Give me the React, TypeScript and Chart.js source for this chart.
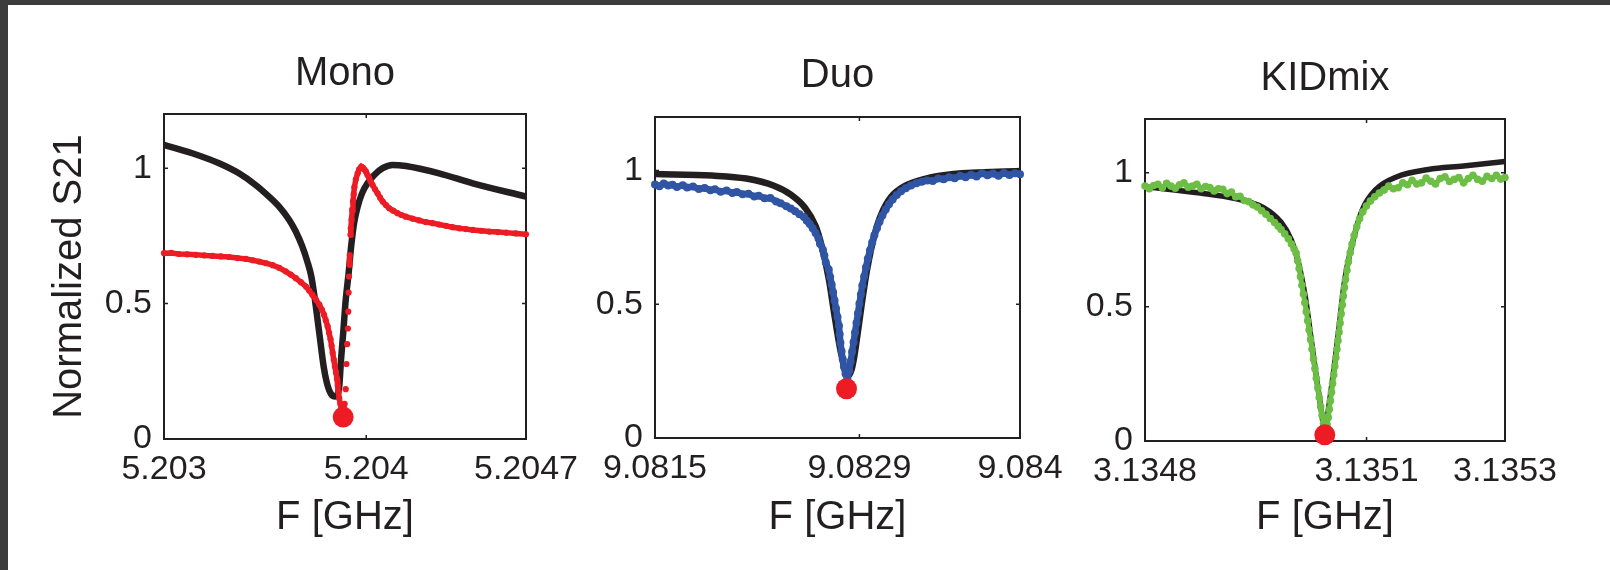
import React, { useEffect, useRef } from "react";
import { Chart, registerables } from "chart.js";

Chart.register(...registerables);

const INK = "#231F20";
const RED = "#ED1C24";
const BLUE = "#2F55A4";
const GREEN = "#6CBE45";
const FONT = "'Liberation Sans', Arial, sans-serif";

// ---------- shared y axis ----------
const yTicks = [0, 0.5, 1];
const yTickLabels = ["0", "0.5", "1"];
const yRange = [0, 1.2];

// ---------- Mono ----------
const monoRange = [5.203, 5.20479];
const monoTicks = [5.203, 5.204, 5.20479];
const monoTickLabels = ["5.203", "5.204", "5.2047"];
const monoFitFreq = [
  5.2030000, 5.2031396, 5.2032721, 5.2033705, 5.2034529, 5.2035191, 5.2035692, 5.2036193,
  5.2036516, 5.2036838, 5.2037088, 5.2037285, 5.2037464, 5.2037679, 5.2037894, 5.2038055,
  5.2038252, 5.2038467, 5.2038664, 5.2038753, 5.2038861, 5.2038986, 5.2039129, 5.2039254,
  5.2039398, 5.2039577, 5.2039791, 5.2040060, 5.2040400, 5.2040812, 5.2041295, 5.2041957,
  5.2043604, 5.2045269, 5.2047900,
];
const monoFitS21 = [
  1.086, 1.055, 1.018, 0.981, 0.938, 0.895, 0.858, 0.809,
  0.766, 0.711, 0.655, 0.600, 0.514, 0.391, 0.268, 0.207,
  0.167, 0.157, 0.194, 0.293, 0.391, 0.514, 0.612, 0.711,
  0.797, 0.858, 0.907, 0.944, 0.975, 1.000, 1.012, 1.008,
  0.981, 0.944, 0.895,
];
const monoDataFreq = [
  5.2030000, 5.2030358, 5.2030734, 5.2031146, 5.2031575, 5.2031987, 5.2032399, 5.2032810,
  5.2033222, 5.2033634, 5.2034045, 5.2034386, 5.2034708, 5.2035048, 5.2035370, 5.2035692,
  5.2036014, 5.2036265, 5.2036516, 5.2036766, 5.2037017, 5.2037178, 5.2037339, 5.2037518,
  5.2037679, 5.2037804, 5.2037912, 5.2038001, 5.2038091, 5.2038162, 5.2038234, 5.2038288,
  5.2038341, 5.2038395, 5.2038449, 5.2038503, 5.2038556, 5.2038592, 5.2038628, 5.2038664,
  5.2038717, 5.2038771, 5.2038825,
  5.2038932, 5.2038986, 5.2039022, 5.2039057, 5.2039093, 5.2039111, 5.2039129, 5.2039147,
  5.2039165, 5.2039183, 5.2039219, 5.2039236, 5.2039272, 5.2039308, 5.2039344, 5.2039380,
  5.2039415, 5.2039487, 5.2039577, 5.2039648, 5.2039756, 5.2039845, 5.2039917, 5.2039988,
  5.2040060, 5.2040149, 5.2040221, 5.2040310, 5.2040436, 5.2040561, 5.2040686, 5.2040812,
  5.2040973, 5.2041134, 5.2041331, 5.2041546, 5.2041742, 5.2041957, 5.2042279, 5.2042620,
  5.2042942, 5.2043282, 5.2043604, 5.2043944, 5.2044266, 5.2044606, 5.2044929, 5.2045269,
  5.2045680, 5.2046092, 5.2046504, 5.2046916, 5.2047399, 5.2047900,
];
const monoDataS21 = [
  0.686, 0.687, 0.683, 0.682, 0.680, 0.678, 0.676, 0.674,
  0.672, 0.668, 0.665, 0.660, 0.655, 0.649, 0.642, 0.632,
  0.619, 0.607, 0.594, 0.579, 0.563, 0.548, 0.532, 0.514,
  0.496, 0.478, 0.459, 0.438, 0.416, 0.392, 0.368, 0.344,
  0.318, 0.293, 0.268, 0.246, 0.222, 0.196, 0.172, 0.150,
  0.130, 0.112, 0.096,
  0.130, 0.184, 0.277, 0.350, 0.408, 0.470, 0.541, 0.600,
  0.643, 0.679, 0.754, 0.778, 0.809, 0.846, 0.877, 0.904,
  0.930, 0.959, 0.981, 0.996, 1.006, 1.001, 0.994, 0.987,
  0.975, 0.963, 0.950, 0.938, 0.922, 0.907, 0.891, 0.877,
  0.864, 0.852, 0.843, 0.834, 0.827, 0.821, 0.814, 0.807,
  0.801, 0.797, 0.792, 0.787, 0.782, 0.778, 0.775, 0.772,
  0.769, 0.766, 0.764, 0.762, 0.759, 0.756,
];
const monoDipFreq = [5.2038859];
const monoDipS21 = [0.081];

// ---------- Duo ----------
const duoRange = [9.0815, 9.084];
const duoTicks = [9.0815, 9.0829, 9.084];
const duoTickLabels = ["9.0815", "9.0829", "9.084"];
const duoFitFreq = [
  9.0815, 9.08189, 9.082125, 9.082315, 9.0824325, 9.0825275, 9.0826, 9.082645,
  9.0826925, 9.0827275, 9.082765, 9.082785, 9.0828, 9.0828225, 9.0828475, 9.082865,
  9.0828825, 9.0829175, 9.0829525, 9.083, 9.0830475, 9.0831175, 9.0832125, 9.083355,
  9.083545, 9.084,
];
const duoFitS21 = [
  0.987, 0.981, 0.970, 0.943, 0.909, 0.861, 0.793, 0.711,
  0.588, 0.465, 0.342, 0.290, 0.255, 0.232, 0.258, 0.305,
  0.369, 0.506, 0.629, 0.752, 0.834, 0.902, 0.943, 0.970,
  0.987, 0.998,
];
const duoDataFreq = [
  9.0815, 9.08153, 9.08156, 9.08159, 9.08162, 9.08165, 9.08169, 9.08172,
  9.08176, 9.0818, 9.08184, 9.08188, 9.08191, 9.08195, 9.08199, 9.08203,
  9.08206, 9.0821, 9.08214, 9.08218, 9.08221, 9.08225, 9.08229, 9.08233,
  9.08236, 9.0824, 9.08243, 9.08246, 9.08249, 9.08252, 9.08254, 9.08256,
  9.08258, 9.0826, 9.08262, 9.08263, 9.08265, 9.08266, 9.08267, 9.08269,
  9.0827, 9.08271, 9.08272, 9.08273, 9.08274, 9.08275, 9.08276, 9.082765,
  9.08277, 9.082778, 9.082786, 9.082794, 9.082805, 9.0828175,
  9.08283, 9.08284, 9.08285, 9.08286, 9.08287, 9.08288, 9.08289, 9.0829,
  9.08291, 9.08292, 9.0829325, 9.082945, 9.0829575, 9.0829725, 9.0829875, 9.0830025,
  9.08302, 9.0830375, 9.0830575, 9.08308, 9.0831025, 9.0831275, 9.083155, 9.083185,
  9.0832175, 9.0832525, 9.08329, 9.0833275, 9.083365, 9.0834025, 9.08344, 9.0834775,
  9.083515, 9.0835525, 9.08359, 9.0836275, 9.083665, 9.0837025, 9.08374, 9.0837775,
  9.083815, 9.0838525, 9.08389, 9.0839275, 9.083965, 9.084,
];
const duoDataS21 = [
  0.948, 0.941, 0.951, 0.944, 0.947, 0.938, 0.945, 0.936,
  0.940, 0.931, 0.935, 0.926, 0.930, 0.921, 0.925, 0.916,
  0.920, 0.911, 0.913, 0.903, 0.906, 0.896, 0.897, 0.884,
  0.878, 0.866, 0.858, 0.848, 0.836, 0.826, 0.812, 0.800,
  0.784, 0.766, 0.746, 0.726, 0.704, 0.682, 0.656, 0.630,
  0.602, 0.574, 0.545, 0.514, 0.484, 0.452, 0.420, 0.388,
  0.356, 0.324, 0.294, 0.266, 0.240, 0.222,
  0.252, 0.286, 0.322, 0.358, 0.394, 0.430, 0.466, 0.502,
  0.536, 0.570, 0.604, 0.638, 0.670, 0.702, 0.731, 0.758,
  0.784, 0.808, 0.832, 0.854, 0.874, 0.892, 0.908, 0.922,
  0.934, 0.944, 0.952, 0.958, 0.963, 0.961, 0.970, 0.967,
  0.975, 0.971, 0.980, 0.975, 0.984, 0.978, 0.990, 0.982,
  0.989, 0.980, 0.991, 0.983, 0.990, 0.986,
];
const duoDipFreq = [9.0828118];
const duoDipS21 = [0.184];

// ---------- KIDmix ----------
const kidRange = [3.13478, 3.1353];
const kidTicks = [3.13478, 3.1351, 3.1353];
const kidTickLabels = ["3.1348", "3.1351", "3.1353"];
const kidFitFreq = [
  3.13478, 3.1348596, 3.1349105, 3.1349511, 3.1349766, 3.1349916, 3.1350015, 3.1350119,
  3.1350192, 3.135027, 3.1350348, 3.13504, 3.1350447, 3.1350525, 3.1350603, 3.1350676,
  3.135078, 3.135093, 3.1351133, 3.135144, 3.1351892, 3.1352402, 3.1353,
];
const kidFitS21 = [
  0.948, 0.924, 0.903, 0.870, 0.815, 0.748, 0.666, 0.531,
  0.395, 0.247, 0.111, 0.030, 0.111, 0.260, 0.423, 0.585,
  0.720, 0.856, 0.937, 0.985, 1.012, 1.025, 1.042,
];
const kidDataFreq = [
  3.13478, 3.1347862, 3.1347925, 3.1347987, 3.134805, 3.1348112, 3.1348174, 3.1348237,
  3.1348299, 3.1348362, 3.1348424, 3.1348486, 3.1348549, 3.1348611, 3.1348674, 3.1348736,
  3.1348798, 3.1348861, 3.1348923, 3.1348986, 3.1349048, 3.134911, 3.1349173, 3.1349235,
  3.1349298, 3.134936, 3.1349422, 3.1349485, 3.1349547, 3.134961, 3.1349672, 3.1349724,
  3.1349766, 3.1349818, 3.134987, 3.1349916, 3.1349953, 3.1349984, 3.1350005, 3.1350026,
  3.1350046, 3.1350067, 3.1350088, 3.1350109, 3.135013, 3.135015, 3.1350171, 3.1350192,
  3.1350213, 3.1350234, 3.1350254, 3.1350275, 3.1350296, 3.1350317, 3.1350338, 3.1350358,
  3.1350379,
  3.1350431, 3.1350447, 3.1350462, 3.1350478, 3.1350494, 3.1350509, 3.1350525, 3.135054,
  3.1350556, 3.1350572, 3.1350587, 3.1350603, 3.1350618, 3.1350634, 3.135065, 3.1350665,
  3.1350681, 3.1350696, 3.1350717, 3.1350738, 3.1350764, 3.135079, 3.1350821, 3.1350858,
  3.1350899, 3.1350946, 3.1350998, 3.1351055, 3.1351118, 3.1351185, 3.1351253, 3.135132,
  3.1351388, 3.1351456, 3.1351523, 3.1351591, 3.1351658, 3.1351726, 3.1351794, 3.1351861,
  3.1351929, 3.1351996, 3.1352064, 3.1352132, 3.1352199, 3.1352267, 3.1352334, 3.1352402,
  3.135247, 3.1352537, 3.1352605, 3.1352672, 3.135274, 3.1352808, 3.1352875, 3.1352938,
  3.1353,
];
const kidDataS21 = [
  0.950, 0.940, 0.952, 0.957, 0.944, 0.960, 0.950, 0.942,
  0.955, 0.962, 0.946, 0.950, 0.957, 0.940, 0.948, 0.945,
  0.932, 0.940, 0.938, 0.922, 0.928, 0.910, 0.912, 0.896,
  0.892, 0.880, 0.872, 0.858, 0.845, 0.829, 0.814, 0.800,
  0.788, 0.772, 0.754, 0.734, 0.716, 0.700, 0.672, 0.643,
  0.612, 0.580, 0.548, 0.515, 0.482, 0.448, 0.414, 0.378,
  0.342, 0.306, 0.270, 0.234, 0.198, 0.162, 0.128, 0.096,
  0.068,
  0.060, 0.088, 0.118, 0.150, 0.182, 0.214, 0.246, 0.278,
  0.310, 0.342, 0.374, 0.406, 0.440, 0.474, 0.508, 0.540,
  0.572, 0.602, 0.636, 0.668, 0.702, 0.734, 0.766, 0.798,
  0.828, 0.854, 0.876, 0.894, 0.910, 0.924, 0.935, 0.950,
  0.940, 0.944, 0.962, 0.955, 0.972, 0.958, 0.962, 0.980,
  0.968, 0.958, 0.978, 0.985, 0.967, 0.975, 0.982, 0.962,
  0.978, 0.990, 0.975, 0.968, 0.986, 0.978, 0.990, 0.976,
  0.982,
];
const kidDipFreq = [3.1350397];
const kidDipS21 = [0.023];

// ---------- panel layout (positions/styles only) ----------
type Panel = {
  title: string;
  range: number[];
  ticks: number[];
  tickLabels: string[];
  fitFreq: number[];
  fitS21: number[];
  dataFreq: number[];
  dataS21: number[];
  dipFreq: number[];
  dipS21: number[];
  color: string;
  pointR: number;
  dataW: number;
  fitW: number;
  canvasLeft: number;
  canvasWidth: number;
  yWidth: number;
  padRight: number;
  titlePadTop: number;
  titlePadBottom: number;
  xHeight: number;
  yTitle: boolean;
};

const PANELS: Panel[] = [
  {
    title: "Mono", range: monoRange, ticks: monoTicks, tickLabels: monoTickLabels,
    fitFreq: monoFitFreq, fitS21: monoFitS21, dataFreq: monoDataFreq, dataS21: monoDataS21,
    dipFreq: monoDipFreq, dipS21: monoDipS21, color: RED, pointR: 3.1, dataW: 5.5, fitW: 6.5,
    canvasLeft: 0, canvasWidth: 590, yWidth: 164, padRight: 64,
    titlePadTop: 50, titlePadBottom: 16, xHeight: 131, yTitle: true,
  },
  {
    title: "Duo", range: duoRange, ticks: duoTicks, tickLabels: duoTickLabels,
    fitFreq: duoFitFreq, fitS21: duoFitS21, dataFreq: duoDataFreq, dataS21: duoDataS21,
    dipFreq: duoDipFreq, dipS21: duoDipS21, color: BLUE, pointR: 4, dataW: 6.5, fitW: 6.5,
    canvasLeft: 590, canvasWidth: 490, yWidth: 65, padRight: 60,
    titlePadTop: 52, titlePadBottom: 17, xHeight: 132, yTitle: false,
  },
  {
    title: "KIDmix", range: kidRange, ticks: kidTicks, tickLabels: kidTickLabels,
    fitFreq: kidFitFreq, fitS21: kidFitS21, dataFreq: kidDataFreq, dataS21: kidDataS21,
    dipFreq: kidDipFreq, dipS21: kidDipS21, color: GREEN, pointR: 3.8, dataW: 5, fitW: 5.5,
    canvasLeft: 1080, canvasWidth: 530, yWidth: 65, padRight: 105,
    titlePadTop: 55, titlePadBottom: 16, xHeight: 129, yTitle: false,
  },
];

const CANVAS_H = 570;

const frameTicks = {
  id: "frameTicks",
  beforeDatasetsDraw(chart: any) {
    const { ctx, chartArea: a, scales } = chart;
    ctx.save();
    ctx.strokeStyle = INK;
    ctx.lineWidth = 2;
    ctx.strokeRect(a.left, a.top, a.right - a.left, a.bottom - a.top);
    ctx.lineWidth = 1.5;
    const L = 4;
    ctx.beginPath();
    scales.x.ticks.forEach((t: any) => {
      const px = scales.x.getPixelForValue(t.value);
      ctx.moveTo(px, a.bottom);
      ctx.lineTo(px, a.bottom - L);
      ctx.moveTo(px, a.top);
      ctx.lineTo(px, a.top + L);
    });
    scales.y.ticks.forEach((t: any) => {
      const py = scales.y.getPixelForValue(t.value);
      ctx.moveTo(a.left, py);
      ctx.lineTo(a.left + L, py);
      ctx.moveTo(a.right, py);
      ctx.lineTo(a.right - L, py);
    });
    ctx.stroke();
    ctx.restore();
  },
};

function PanelChart({ p }: { p: Panel }) {
  const ref = useRef<HTMLCanvasElement>(null);
  useEffect(() => {
    const zip = (xs: number[], ys: number[]) => xs.map((x, i) => ({ x, y: ys[i] }));
    const chart = new Chart(ref.current as HTMLCanvasElement, {
      type: "line",
      data: {
        datasets: [
          {
            data: zip(p.dipFreq, p.dipS21),
            showLine: false,
            pointRadius: 10.5,
            pointBackgroundColor: RED,
            pointBorderWidth: 0,
            clip: false,
            order: 0,
          } as any,
          {
            data: zip(p.dataFreq, p.dataS21),
            borderColor: p.color,
            borderWidth: p.dataW,
            pointRadius: p.pointR,
            pointBackgroundColor: p.color,
            pointBorderWidth: 0,
            tension: 0,
            clip: false,
            order: 1,
            segment: {
              borderColor: (c: any) =>
                Math.abs(c.p1.y - c.p0.y) > 11 ? "rgba(0,0,0,0)" : undefined,
            },
          } as any,
          {
            data: zip(p.fitFreq, p.fitS21),
            borderColor: INK,
            borderWidth: p.fitW,
            pointRadius: 0,
            cubicInterpolationMode: "monotone",
            clip: false,
            order: 2,
          } as any,
        ],
      },
      options: {
        responsive: false,
        animation: false,
        devicePixelRatio: 1,
        events: [],
        layout: { padding: { left: 0, top: 0, bottom: 0, right: p.padRight } },
        plugins: {
          legend: { display: false },
          tooltip: { enabled: false },
          title: {
            display: true,
            text: p.title,
            color: INK,
            fullSize: false,
            font: { family: FONT, size: 40, weight: "normal" },
            padding: { top: p.titlePadTop, bottom: p.titlePadBottom },
          },
        },
        scales: {
          x: {
            type: "linear",
            min: p.range[0],
            max: p.range[1],
            afterBuildTicks: (s: any) => {
              s.ticks = p.ticks.map((v) => ({ value: v }));
            },
            afterFit: (s: any) => {
              s.height = p.xHeight;
            },
            grid: { display: false, drawTicks: false },
            border: { display: false },
            ticks: {
              autoSkip: false,
              maxRotation: 0,
              minRotation: 0,
              padding: 10,
              color: INK,
              font: { family: FONT, size: 34 },
              callback: (_v: any, i: number) => p.tickLabels[i],
            },
            title: {
              display: true,
              text: "F [GHz]",
              color: INK,
              font: { family: FONT, size: 40, weight: "normal" },
              padding: { top: 0, bottom: 28 },
            },
          },
          y: {
            type: "linear",
            min: yRange[0],
            max: yRange[1],
            afterBuildTicks: (s: any) => {
              s.ticks = yTicks.map((v) => ({ value: v }));
            },
            afterFit: (s: any) => {
              s.width = p.yWidth;
            },
            grid: { display: false, drawTicks: false },
            border: { display: false },
            ticks: {
              padding: 12,
              color: INK,
              font: { family: FONT, size: 34 },
              callback: (_v: any, i: number) => yTickLabels[i],
            },
            title: {
              display: p.yTitle,
              text: "Normalized S21",
              color: INK,
              font: { family: FONT, size: 40, weight: "normal" },
              padding: { top: 46, bottom: 0 },
            },
          },
        },
      } as any,
      plugins: [frameTicks],
    });
    return () => chart.destroy();
  }, [p]);
  return (
    <canvas
      ref={ref}
      width={p.canvasWidth}
      height={CANVAS_H}
      style={{
        position: "absolute",
        left: p.canvasLeft,
        top: 0,
        width: p.canvasWidth,
        height: CANVAS_H,
      }}
    />
  );
}

export default function App() {
  return (
    <div
      style={{
        position: "absolute",
        left: 0,
        top: 0,
        width: 1610,
        height: 570,
        background: "#3C3C3C",
        overflow: "hidden",
      }}
    >
      <div
        style={{
          position: "absolute",
          left: 8,
          top: 5,
          right: 0,
          bottom: 0,
          background: "#FFFFFF",
        }}
      />
      {PANELS.map((p) => (
        <PanelChart key={p.title} p={p} />
      ))}
    </div>
  );
}
